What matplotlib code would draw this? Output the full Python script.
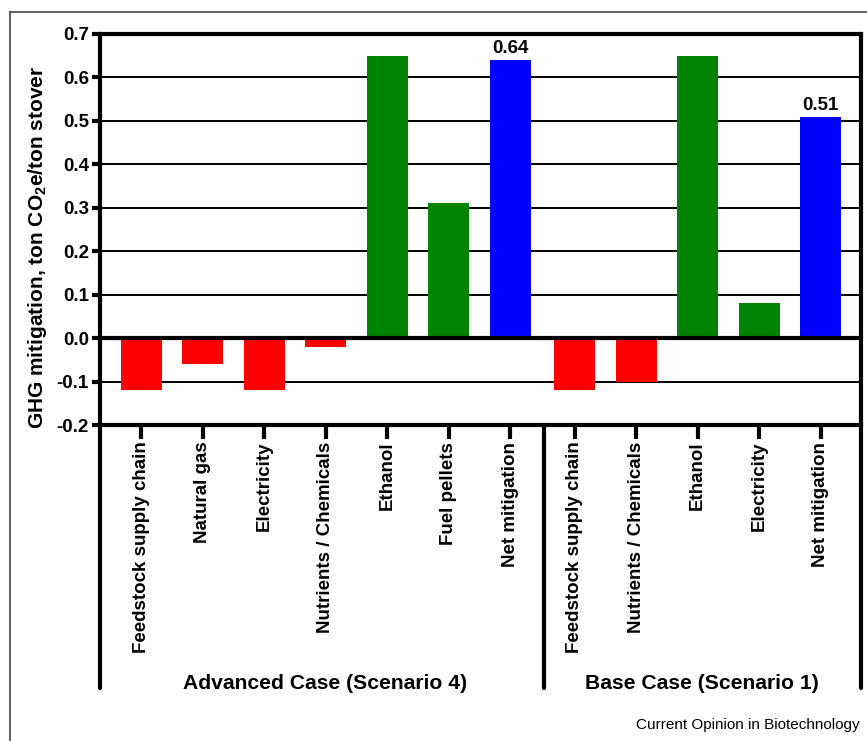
"""GHG mitigation per ton of corn stover, advanced vs base case"""
import matplotlib
matplotlib.use("Agg")
from matplotlib import pyplot as plt
from matplotlib.lines import Line2D

plt.rcParams['font.family'] = ['Liberation Sans', 'DejaVu Sans']
plt.rcParams['mathtext.fontset'] = 'custom'
plt.rcParams['mathtext.rm'] = 'Liberation Sans:bold'
plt.rcParams['mathtext.default'] = 'rm'

# Advanced case (scenario 4)
adv_labels = ["Feedstock supply chain", "Natural gas", "Electricity",
              "Nutrients / Chemicals", "Ethanol", "Fuel pellets", "Net mitigation"]
adv_values = [-0.12, -0.06, -0.12, -0.02, 0.65, 0.31, 0.64]
adv_colors = ["red", "red", "red", "red", "green", "green", "blue"]

# Base case (scenario 1)
base_labels = ["Feedstock supply chain", "Nutrients / Chemicals", "Ethanol",
               "Electricity", "Net mitigation"]
base_values = [-0.12, -0.10, 0.65, 0.08, 0.51]
base_colors = ["red", "red", "green", "green", "blue"]

group_names = ["Advanced Case (Scenario 4)", "Base Case (Scenario 1)"]
yticks = [-0.2, -0.1, 0.0, 0.1, 0.2, 0.3, 0.4, 0.5, 0.6, 0.7]

# x positions: one slot per bar, small gap between the two cases
adv_x = [i for i in range(len(adv_values))]
base_x = [7.05 + i for i in range(len(base_values))]
x_left, x_sep, x_right = -0.667, 6.55, 11.7

fig = plt.figure(figsize=(8.67, 7.41), dpi=100)
ax = fig.add_axes([100 / 867, 1 - 425 / 741, 760.7 / 867, 391 / 741])

cmap = {"red": "#ff0000", "green": "#008400", "blue": "#0000ff"}
ax.bar(adv_x, adv_values, width=0.667, color=[cmap[c] for c in adv_colors], zorder=2)
ax.bar(base_x, base_values, width=0.667, color=[cmap[c] for c in base_colors], zorder=2)

# value labels on the net mitigation bars
for x, v in [(adv_x[-1], adv_values[-1]), (base_x[-1], base_values[-1])]:
    ax.annotate("%.2f" % v, (x, v), xytext=(0, 2), textcoords="offset points",
                ha="center", va="bottom", fontsize=13.5, fontweight="bold")

ax.set_xlim(x_left, x_right)
ax.set_ylim(-0.2, 0.7)
ax.set_yticks(yticks)
ax.set_yticklabels(["%.1f" % t for t in yticks], fontsize=13.5, fontweight="bold")
ax.set_xticks(adv_x + base_x)
ax.set_xticklabels(adv_labels + base_labels, rotation=90, fontsize=13.5,
                   fontweight="bold", va="top")

for t in yticks[1:-1]:
    ax.axhline(t, color="black", lw=1.4, zorder=1)
ax.axhline(0, color="black", lw=3, zorder=3)

for s in ax.spines.values():
    s.set_linewidth(3)
ax.tick_params(axis="y", length=6, width=3, pad=2)
ax.tick_params(axis="x", direction="out", length=10, width=3, pad=2)

# lines dividing the two cases below the axis
trans = ax.get_xaxis_transform()
for x in [x_left, x_sep, x_right]:
    ax.add_line(Line2D([x, x], [0, -0.673], transform=trans, color="black",
                       lw=3, clip_on=False, solid_capstyle="round"))

ax.text((x_left + x_sep) / 2 + 0.05, -0.66, group_names[0], transform=trans,
        ha="center", va="center", fontsize=15.2, fontweight="bold")
ax.text((x_sep + x_right) / 2, -0.66, group_names[1], transform=trans,
        ha="center", va="center", fontsize=15.2, fontweight="bold")

fig.text(38 / 867, 1 - 247 / 741, r"GHG mitigation, ton CO$_{2}$e/ton stover",
         rotation=90, ha="center", va="center", fontsize=15, fontweight="bold")

fig.text(860 / 867, 1 - 725 / 741, "Current Opinion in Biotechnology",
         ha="right", va="center", fontsize=11)

# outer panel frame
fig.add_artist(Line2D([10 / 867, 10 / 867], [0, 1 - 12 / 741], color="#444444", lw=1.2))
fig.add_artist(Line2D([10 / 867, 1], [1 - 12 / 741, 1 - 12 / 741], color="#444444", lw=1.2))

fig.savefig("out.png", dpi=100)
